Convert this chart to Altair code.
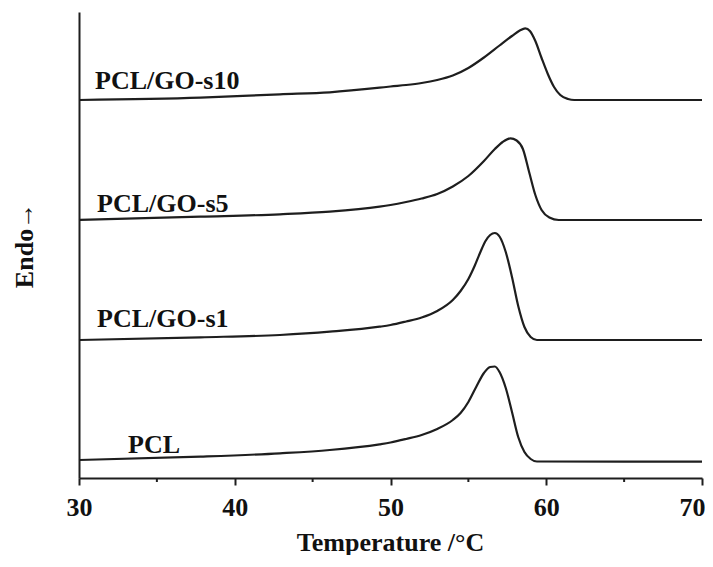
import altair as alt
import pandas as pd

# ---- data (temperature in degC, heat flow in arbitrary offset units) ----
series_names = ["PCL", "PCL/GO-s1", "PCL/GO-s5", "PCL/GO-s10"]

pcl_T = [30, 37.8, 42.9, 46.1, 49.3, 50, 51, 52, 53, 54, 54.5, 55, 55.5, 56.0, 56.4, 56.7, 57.0, 57.4, 57.8, 58.2, 58.6, 59.0, 59.4, 70]
pcl_V = [18, 21.3, 24.7, 28, 33.7, 35.5, 39, 43, 49, 58, 65, 76, 91, 105, 111, 111.5, 106, 90, 66, 41, 26, 19, 16.5, 16.3]

s1_T = [30, 37.8, 42.9, 46.1, 49.3, 50, 51, 52, 53, 54, 54.5, 55, 55.4, 55.8, 56.1, 56.4, 56.7, 57.0, 57.4, 57.8, 58.2, 58.6, 59.0, 59.4, 70]
s1_V = [138, 140.7, 143, 146.3, 151.3, 153, 156.5, 160.5, 167, 178, 187, 199, 212, 227, 237, 243, 245, 241.5, 226, 201, 172, 151, 141, 138, 138]

s5_T = [30, 37.8, 42.9, 46.1, 49.3, 50, 51, 52, 53, 54, 55, 56, 56.7, 57.2, 57.7, 58.1, 58.5, 58.9, 59.3, 59.7, 60.2, 60.8, 70]
s5_V = [258, 261.3, 263.7, 266.3, 271.3, 273, 276, 279.5, 284, 291.5, 302, 317, 329, 336, 339.7, 337.5, 329, 306, 283, 268, 260.5, 258, 258]

s10_T = [30, 37.8, 42.9, 46.1, 49.3, 50, 51, 52, 53, 54, 55, 56, 57, 57.8, 58.3, 58.65, 58.95, 59.3, 59.7, 60.1, 60.5, 60.9, 61.4, 61.8, 70]
s10_V = [378, 380.3, 383.7, 385.7, 390.3, 391.5, 393, 395, 398, 402.5, 410, 420.5, 432.5, 442, 447.5, 449.7, 447, 437, 420, 404, 391, 383, 379, 378, 378]

# curve label anchors (data coordinates)
label_T = [33.15, 31.16, 31.16, 31.03]
label_V = [25, 151, 266, 389]

major_ticks = [30, 40, 50, 60, 70]
minor_ticks = [35, 45, 55, 65]

# ---- build tables ----
rows = []
for name, Ts, Vs in zip(series_names, [pcl_T, s1_T, s5_T, s10_T], [pcl_V, s1_V, s5_V, s10_V]):
    for i, (t, v) in enumerate(zip(Ts, Vs)):
        rows.append({"series": name, "T": t, "V": v, "i": i})
curves = pd.DataFrame(rows)
labels = pd.DataFrame({"series": series_names, "T": label_T, "V": label_V})
minor = pd.DataFrame({"T": minor_ticks})

FONT = "Liberation Serif"
INK = "#1e1e1e"

xscale = alt.Scale(domain=[30, 70], nice=False, zero=False)
yscale = alt.Scale(domain=[0, 466], nice=False, zero=False)

xaxis = alt.Axis(
    values=major_ticks, title="Temperature /°C", grid=False,
    labelFont=FONT, labelFontWeight="bold", labelFontSize=26, labelColor="#111",
    labelPadding=9, labelFlush=False,
    labelAlign={"condition": {"test": "datum.value === 70", "value": "right"}, "value": "center"},
    labelOffset={"condition": {"test": "datum.value === 70", "value": 3}, "value": 0},
    tickSize=7, tickWidth=2, tickColor=INK, domainWidth=2, domainColor=INK,
    titleFont=FONT, titleFontWeight="bold", titleFontSize=26, titleColor="#111",
    titleX=311, titleY=72, titleAlign="center", titleBaseline="alphabetic",
)
yaxis = alt.Axis(
    title="Endo→", labels=False, ticks=False, grid=False,
    domainWidth=2, domainColor=INK,
    titleFont=FONT, titleFontWeight="bold", titleFontSize=26, titleColor="#111",
    titleAngle=270, titleX=-55, titleY=233, titleAlign="center", titleBaseline="middle",
)

lines = alt.Chart(curves).mark_line(interpolate="monotone", strokeWidth=2.2, color=INK).encode(
    x=alt.X("T:Q", scale=xscale, axis=xaxis),
    y=alt.Y("V:Q", scale=yscale, axis=yaxis),
    detail="series:N",
    order="i:Q",
)

minor_rules = alt.Chart(minor).mark_rule(color=INK, strokeWidth=2).encode(
    x=alt.X("T:Q", scale=xscale),
    y=alt.value(466),
    y2=alt.value(470),
)

texts = alt.Chart(labels).mark_text(
    font=FONT, fontWeight="bold", fontSize=26, color="#111",
    align="left", baseline="alphabetic",
).encode(
    x=alt.X("T:Q", scale=xscale),
    y=alt.Y("V:Q", scale=yscale),
    text="series:N",
)

chart = alt.layer(lines, minor_rules, texts).properties(
    width=623, height=466,
    autosize=alt.AutoSizeParams(type="none"),
    padding={"left": 71, "top": 4, "right": 3, "bottom": 77},
    background="white",
).configure_view(strokeWidth=0)

chart.save("out.html", embed_options={"renderer": "svg", "actions": False})
